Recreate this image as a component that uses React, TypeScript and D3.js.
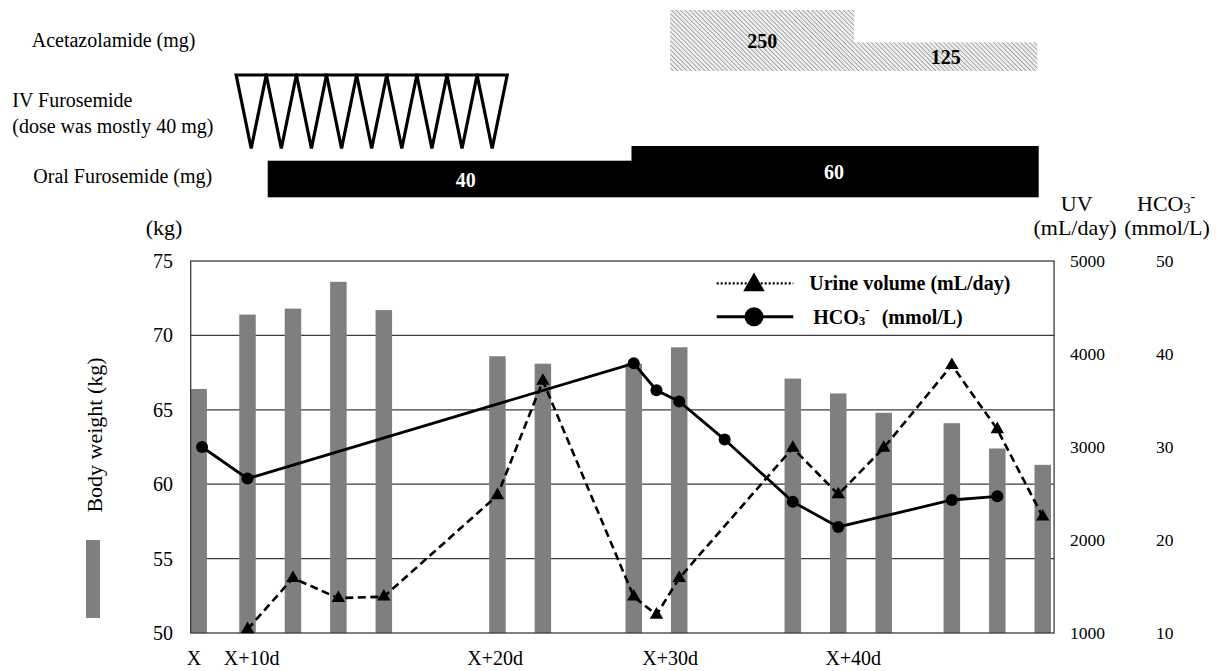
import React from "react";
import * as d3 from "d3";

// x positions are "slots" (equal steps along the time axis of the chart)
const barSlots = [-0.15, 2, 4, 6, 8, 13, 15, 19, 21, 26, 28, 30, 33, 35, 37];
const bodyWeight = [66.4, 71.4, 71.8, 73.6, 71.7, 68.6, 68.1, 68.1, 69.2, 67.1, 66.1, 64.8, 64.1, 62.4, 61.3];

const uvSlots = [2, 4, 6, 8, 13, 15, 19, 20, 21, 26, 28, 30, 33, 35, 37];
const urineVolume = [1040, 1590, 1375, 1390, 2480, 3710, 1390, 1195, 1590, 2990, 2490, 2990, 3880, 3190, 2250];

const hco3Slots = [0, 2, 19, 20, 21, 23, 26, 28, 33, 35];
const hco3 = [30.0, 26.6, 39.0, 36.1, 34.9, 30.8, 24.1, 21.4, 24.3, 24.7];

const xLabels = ["X", "X+10d", "X+20d", "X+30d", "X+40d"];
const xLabelSlots = [-0.36, 2.18, 12.9, 20.6, 28.66];

const kgTicks = [50, 55, 60, 65, 70, 75];
const uvTicks = [1000, 2000, 3000, 4000, 5000];
const hco3Ticks = [10, 20, 30, 40, 50];

// treatment rows
const ivDoseCount = 9;
const ivRange = [1.5, 13.43];
const oralSegments = [
  { from: 2.89, to: 18.9, dose: 40 },
  { from: 18.9, to: 36.8, dose: 60 },
];
const acetazolamideSegments = [
  { from: 20.6, to: 28.7, dose: 250 },
  { from: 28.7, to: 36.76, dose: 125 },
];

const FONT = "'Liberation Serif', 'Times New Roman', serif";

export default function App() {
  const x = d3.scaleLinear().domain([-0.5, 37.5]).range([190.7, 1054.1]);
  const yKg = d3.scaleLinear().domain([50, 75]).range([633, 261]);
  const yUV = d3.scaleLinear().domain([1000, 5000]).range([633, 261]);
  const yHC = d3.scaleLinear().domain([10, 50]).range([633, 261]);

  const oralTop = d3.scaleLinear().domain([40, 60]).range([160.7, 146]);
  const acetTop = d3.scaleLinear().domain([125, 250]).range([42.3, 10]);

  const iv = d3
    .scaleBand<number>()
    .domain(d3.range(ivDoseCount))
    .range([x(ivRange[0]), x(ivRange[1])]);

  const uvPts: [number, number][] = uvSlots.map((s, i) => [x(s), yUV(urineVolume[i])]);
  const hcPts: [number, number][] = hco3Slots.map((s, i) => [x(s), yHC(hco3[i])]);
  const line = d3.line();

  const tri = d3.symbol(d3.symbolTriangle, 78)();
  const triLegend = d3.symbol(d3.symbolTriangle, 200)();

  const left = x.range()[0];
  const right = x.range()[1];
  const barW = 16.5;
  const gridColor = "#3c3c3c";

  return (
    <svg
      width={1223}
      height={671}
      style={{ position: "absolute", left: 0, top: 0, background: "#fff" }}
      fontFamily={FONT}
    >
      <defs>
        <pattern id="hatch" patternUnits="userSpaceOnUse" width={3.2} height={3.2} patternTransform="rotate(-45)">
          <rect width={3.2} height={3.2} fill="#ededed" />
          <line x1={0} y1={0} x2={0} y2={3.2} stroke="#9c9c9c" strokeWidth={1.6} />
        </pattern>
      </defs>

      {/* treatment rows */}
      <text x={31.7} y={46.7} fontSize={20}>Acetazolamide (mg)</text>
      <text x={12.3} y={107.3} fontSize={20}>IV Furosemide</text>
      <text x={12.3} y={132.7} fontSize={20}>(dose was mostly 40 mg)</text>
      <text x={33.3} y={183.3} fontSize={20}>Oral Furosemide (mg)</text>

      {acetazolamideSegments.map((d) => (
        <rect key={d.dose} x={x(d.from)} y={acetTop(d.dose)} width={x(d.to) - x(d.from)} height={71 - acetTop(d.dose)} fill="url(#hatch)" />
      ))}
      {acetazolamideSegments.map((d) => (
        <text
          key={"t" + d.dose}
          x={(x(d.from) + x(d.to)) / 2}
          y={(acetTop(d.dose) + 71) / 2 + 7}
          fontSize={20}
          fontWeight="bold"
          textAnchor="middle"
        >
          {d.dose}
        </text>
      ))}

      {d3.range(ivDoseCount).map((i) => {
        const x0 = iv(i)!;
        const x1 = x0 + iv.bandwidth();
        return (
          <path
            key={i}
            d={`M${x0},75 L${(x0 + x1) / 2},148.5 L${x1},75 Z`}
            fill="#fff"
            stroke="#000"
            strokeWidth={3.2}
            strokeLinejoin="miter"
          />
        );
      })}

      {oralSegments.map((d) => (
        <rect key={d.dose} x={x(d.from)} y={oralTop(d.dose)} width={x(d.to) - x(d.from) + 0.5} height={197.3 - oralTop(d.dose)} fill="#000" />
      ))}
      <text x={465.8} y={187} fontSize={20} fontWeight="bold" fill="#fff" textAnchor="middle">
        {oralSegments[0].dose}
      </text>
      <text x={834} y={179} fontSize={20} fontWeight="bold" fill="#fff" textAnchor="middle">
        {oralSegments[1].dose}
      </text>

      {/* axis headers */}
      <text x={164} y={235} fontSize={22} textAnchor="middle">(kg)</text>
      <text x={1076.7} y={211} fontSize={22} textAnchor="middle">UV</text>
      <text x={1075} y={235} fontSize={22} textAnchor="middle">(mL/day)</text>
      <text x={1137} y={211} fontSize={22}>
        HCO<tspan fontSize={14} dy={2}>3</tspan>
        <tspan fontSize={14} dy={-12}>-</tspan>
      </text>
      <text x={1167} y={235} fontSize={22} textAnchor="middle">(mmol/L)</text>

      <text transform="translate(102,435) rotate(-90)" fontSize={22} textAnchor="middle">
        Body weight (kg)
      </text>
      <rect x={86} y={540} width={14} height={78} fill="#7f7f7f" />

      {/* grid + frame */}
      {kgTicks.slice(1, -1).map((t) => (
        <line key={t} x1={left} x2={right} y1={yKg(t)} y2={yKg(t)} stroke={gridColor} strokeWidth={1.3} />
      ))}

      {/* body weight bars */}
      {barSlots.map((s, i) => (
        <rect
          key={i}
          x={Math.max(left, x(s) - barW / 2)}
          y={yKg(bodyWeight[i])}
          width={x(s) + barW / 2 - Math.max(left, x(s) - barW / 2)}
          height={yKg(50) - yKg(bodyWeight[i])}
          fill="#7f7f7f"
        />
      ))}

      <rect x={left} y={yKg(75)} width={right - left} height={yKg(50) - yKg(75)} fill="none" stroke={gridColor} strokeWidth={1.3} />

      {/* urine volume */}
      <path d={line(uvPts)!} fill="none" stroke="#000" strokeWidth={2.6} strokeDasharray="8,4.5" />
      {uvPts.map((p, i) => (
        <path key={i} d={tri!} transform={`translate(${p[0]},${p[1]})`} fill="#000" />
      ))}

      {/* HCO3 */}
      <path d={line(hcPts)!} fill="none" stroke="#000" strokeWidth={2.8} />
      {hcPts.map((p, i) => (
        <circle key={i} cx={p[0]} cy={p[1]} r={6} fill="#000" />
      ))}

      {/* tick labels */}
      {kgTicks.map((t) => (
        <text key={t} x={173} y={yKg(t)} dy="0.35em" fontSize={20} textAnchor="end">
          {t}
        </text>
      ))}
      {uvTicks.map((t) => (
        <text key={t} x={1087.5} y={yUV(t)} dy="0.35em" fontSize={17.5} textAnchor="middle">
          {t}
        </text>
      ))}
      {hco3Ticks.map((t) => (
        <text key={t} x={1164.7} y={yHC(t)} dy="0.35em" fontSize={17.5} textAnchor="middle">
          {t}
        </text>
      ))}
      {xLabels.map((l, i) => (
        <text key={l} x={x(xLabelSlots[i])} y={665} fontSize={20} textAnchor="middle">
          {l}
        </text>
      ))}

      {/* legend */}
      <line x1={716.7} x2={793.3} y1={283.3} y2={283.3} stroke="#000" strokeWidth={2.2} strokeDasharray="2,2" />
      <path d={triLegend!} transform="translate(754,285)" fill="#000" />
      <text x={809.3} y={283.3} dy="0.35em" fontSize={20} fontWeight="bold">
        Urine volume (mL/day)
      </text>
      <line x1={716.7} x2={793.3} y1={316.7} y2={316.7} stroke="#000" strokeWidth={3} />
      <circle cx={754} cy={316.7} r={9.5} fill="#000" />
      <text x={813.3} y={323.7} fontSize={20} fontWeight="bold">
        HCO<tspan fontSize={13} dy={1}>3</tspan>
        <tspan fontSize={13} dy={-11}>-</tspan>
      </text>
      <text x={881.7} y={323.7} fontSize={20} fontWeight="bold">
        (mmol/L)
      </text>
    </svg>
  );
}
